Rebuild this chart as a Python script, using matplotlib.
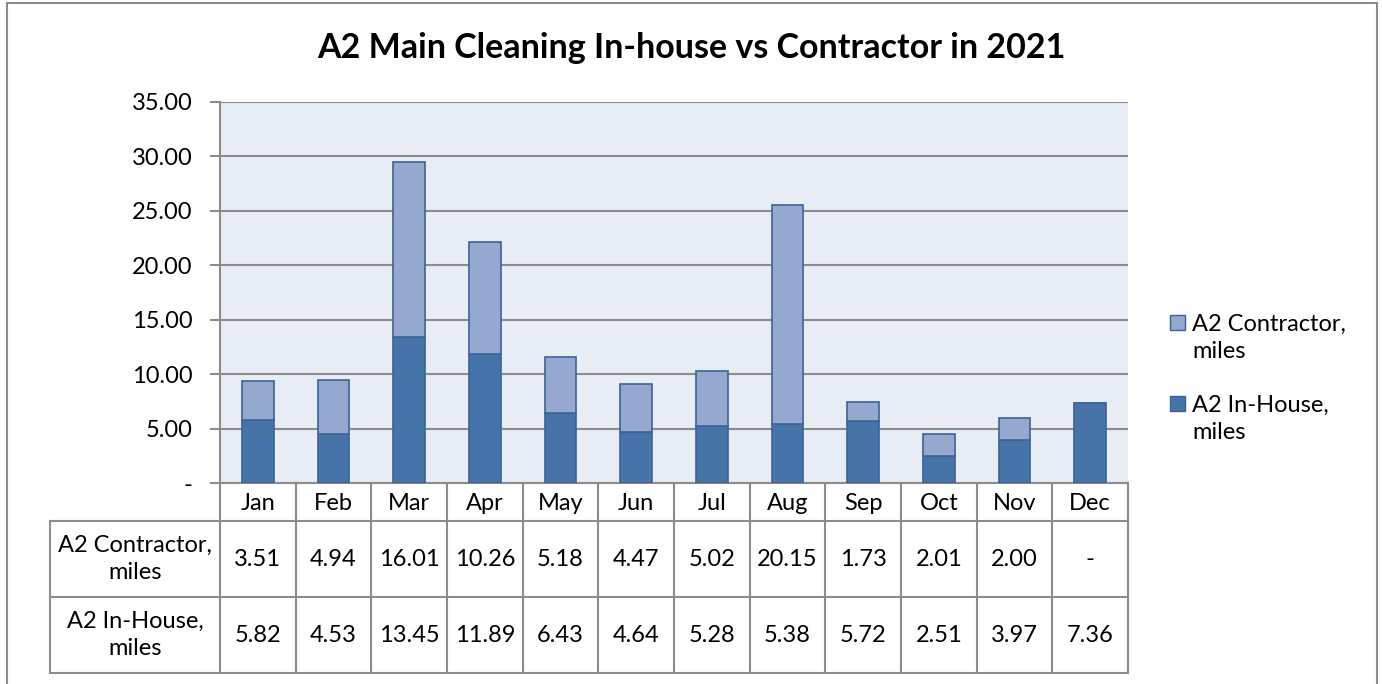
import matplotlib
matplotlib.use("Agg")
import matplotlib.pyplot as plt
from matplotlib.patches import Rectangle

plt.rcParams["font.family"] = ["Lato", "DejaVu Sans"]

MONTHS = ["Jan", "Feb", "Mar", "Apr", "May", "Jun", "Jul", "Aug", "Sep", "Oct", "Nov", "Dec"]
CONTRACTOR = [3.51, 4.94, 16.01, 10.26, 5.18, 4.47, 5.02, 20.15, 1.73, 2.01, 2.00, 0.0]
IN_HOUSE = [5.82, 4.53, 13.45, 11.89, 6.43, 4.64, 5.28, 5.38, 5.72, 2.51, 3.97, 7.36]
SERIES_LABELS = ["A2 Contractor,\nmiles", "A2 In-House,\nmiles"]
Y_TICKS = [0, 5, 10, 15, 20, 25, 30, 35]

C_CONTRACTOR = "#95A8D0"
C_IN_HOUSE = "#4673A8"
C_EDGE = "#3B6496"
C_BG = "#E8ECF4"
C_GRID = "#8C8C8C"
FS = 17

W, H = 1382, 684


def fx(px):
    return px / W


def fy(py):
    return 1 - py / H


fig = plt.figure(figsize=(W / 100, H / 100), dpi=100)

# outer chart frame
fig.patches.append(Rectangle((fx(7), fy(700)), fx(1377) - fx(7), fy(3) - fy(700),
                             transform=fig.transFigure, fill=False,
                             edgecolor="#8C8C8C", linewidth=1.5))

fig.text(0.5, fy(48), "A2 Main Cleaning In-house vs Contractor in 2021",
         ha="center", va="center", fontsize=24.5, fontweight="bold")

# plot area
ax = fig.add_axes([fx(220), fy(483), fx(1128) - fx(220), fy(102) - fy(483)])
ax.set_facecolor(C_BG)
x = list(range(len(MONTHS)))
ax.bar(x, IN_HOUSE, width=0.42, color=C_IN_HOUSE, edgecolor=C_EDGE, linewidth=1.2, zorder=3)
ax.bar(x, CONTRACTOR, width=0.42, bottom=IN_HOUSE, color=C_CONTRACTOR,
       edgecolor=C_EDGE, linewidth=1.2, zorder=3)
ax.set_xlim(-0.5, len(MONTHS) - 0.5)
ax.set_ylim(0, 35)
ax.set_yticks(Y_TICKS)
ax.set_yticklabels(["-" if t == 0 else f"{t:.2f}" for t in Y_TICKS], fontsize=FS)
ax.yaxis.grid(True, color=C_GRID, linewidth=1.5, zorder=1)
ax.set_xticks([])
ax.tick_params(axis="y", length=7, width=1.5, color=C_GRID, pad=13)
for side in ["top", "right"]:
    ax.spines[side].set_visible(False)
for side in ["left", "bottom"]:
    ax.spines[side].set_color(C_GRID)
    ax.spines[side].set_linewidth(1.5)

# data table below the plot
label_w = (220 - 50) / (908 / len(MONTHS))
tab = fig.add_axes([fx(50), fy(673), fx(1128) - fx(50), fy(483) - fy(673)])
tab.set_xlim(-0.5 - label_w, len(MONTHS) - 0.5)
tab.set_ylim(190, 0)
tab.axis("off")
row_edges = [0, 38, 114, 190]
line_kw = dict(color=C_GRID, linewidth=1.5, clip_on=False)
for y in row_edges[1:]:
    tab.plot([-0.5 - label_w, len(MONTHS) - 0.5], [y, y], **line_kw)
tab.plot([-0.5 - label_w, -0.5 - label_w], [row_edges[1], row_edges[-1]], **line_kw)
for i in range(len(MONTHS) + 1):
    tab.plot([i - 0.5, i - 0.5], [row_edges[0], row_edges[-1]], **line_kw)

for i, m in enumerate(MONTHS):
    tab.text(i, 21, m, ha="center", va="center", fontsize=FS)

rows = [CONTRACTOR, IN_HOUSE]
for r, (label, vals) in enumerate(zip(SERIES_LABELS, rows)):
    yc = (row_edges[r + 1] + row_edges[r + 2]) / 2
    tab.text(-0.5 - label_w / 2, yc, label, ha="center", va="center",
             fontsize=FS, linespacing=1.35)
    for i, v in enumerate(vals):
        tab.text(i, yc, "-" if v == 0 else f"{v:.2f}", ha="center", va="center", fontsize=FS)

# legend
for (label, color, py) in [(SERIES_LABELS[0], C_CONTRACTOR, 338), (SERIES_LABELS[1], C_IN_HOUSE, 419)]:
    fig.patches.append(Rectangle((fx(1170), fy(py - 23) - 15 / H), 15 / W, 15 / H,
                                 transform=fig.transFigure, facecolor=color,
                                 edgecolor=C_EDGE, linewidth=1))
    fig.text(fx(1192), fy(py), label, ha="left", va="center", fontsize=FS, linespacing=1.4)

fig.savefig("out.png", dpi=100)
